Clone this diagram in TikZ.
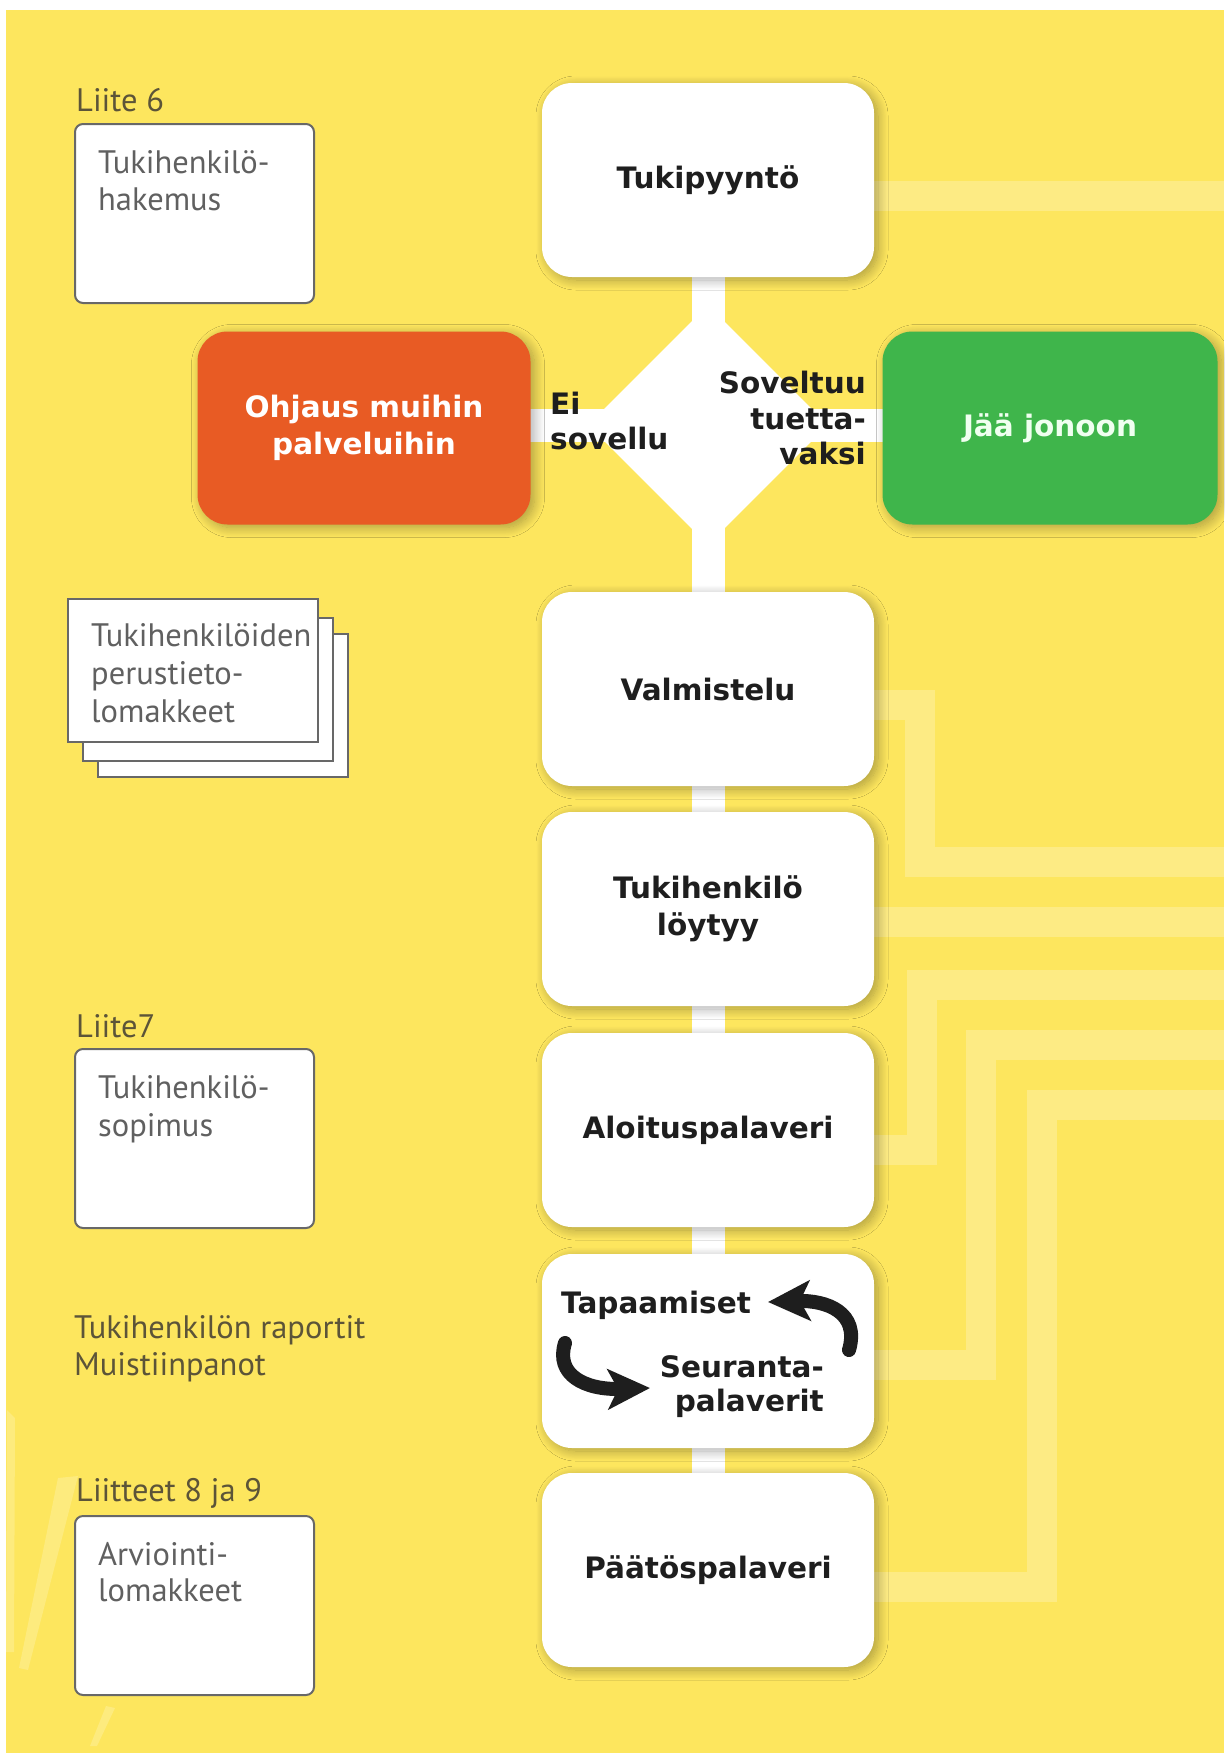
\documentclass[tikz,border=0pt]{standalone}
\usepackage{fontspec}
\setmainfont{Lato}
\newfontfamily\docfont{PT Sans}
\newfontfamily\boxfont{DejaVu Sans}
\usetikzlibrary{shapes.geometric,arrows.meta,shadows.blur}
\definecolor{bgyellow}{HTML}{FDE65E}
\definecolor{stripecol}{HTML}{FDEB84}
\definecolor{orangebox}{HTML}{E85B24}
\definecolor{greenbox}{HTML}{3FB54B}
\definecolor{doctext}{HTML}{606060}
\definecolor{labeltext}{HTML}{5C5438}
\definecolor{docline}{HTML}{686868}
\definecolor{boxtext}{HTML}{1E1E1E}
\pgfdeclarelayer{bglayer}
\pgfdeclarelayer{stemlayer}
\pgfsetlayers{bglayer,stemlayer,main}
\tikzset{
  boxshadow/.style={blur shadow={shadow xshift=4pt, shadow yshift=-3pt, shadow blur radius=10pt, shadow blur steps=14, shadow opacity=32}},
  flowbox/.style={rectangle, rounded corners=30pt, minimum width=332pt, minimum height=194pt,
    fill=white, inner sep=0pt, font=\boxfont\bfseries\fontsize{29.5}{37}\selectfont, text=boxtext, align=center, boxshadow},
  sidebox/.style={flowbox, text=white},
  decision/.style={diamond, fill=white, minimum width=240pt, minimum height=240pt, inner sep=0pt, aspect=1},
  stemline/.style={line width=33pt, white},
  stripe/.style={line width=30pt, stripecol, line join=miter},
  boldlabel/.style={font=\boxfont\bfseries\fontsize{29.5}{36}\selectfont, text=boxtext, inner sep=0pt},
  docbox/.style={draw=docline, line width=2pt, fill=white, rounded corners=8pt, inner sep=0pt,
    minimum width=239pt, minimum height=179pt},
  docsheet/.style={draw=docline, line width=2.2pt, fill=white, inner sep=0pt,
    minimum width=250pt, minimum height=143pt},
  doctxt/.style={font=\docfont\fontsize{32.5}{37}\selectfont, text=doctext, align=left, inner sep=0pt, anchor=base west},
  doclabel/.style={font=\docfont\fontsize{32.5}{37}\selectfont, text=labeltext, align=left, inner sep=0pt, anchor=base west},
  cyclearrow/.style={draw=boxtext, line width=14pt, line cap=round, -{Stealth[length=42pt,width=40pt,inset=10pt]}},
  swoosh/.style={fill=white, opacity=0.2},
}
\begin{document}
\begin{tikzpicture}[x=1pt,y=-1pt]
\useasboundingbox (0,0) rectangle (1224,1753);

% ---------- main flow ----------
\node[flowbox] (tuki) at (708,180) {Tukipyyntö};
\node[decision] (dec) at (708,425) {};
\node[sidebox, fill=orangebox, minimum width=333pt, minimum height=193pt] (ohj) at (364,428) {Ohjaus muihin\\palveluihin};
\node[sidebox, fill=greenbox, minimum width=335pt, minimum height=193pt, text=white!94!green] (jaa) at (1050,428) {Jää jonoon};
\node[flowbox] (valm) at (708,689) {Valmistelu};
\node[flowbox] (loyt) at (708,909) {Tukihenkilö\\löytyy};
\node[flowbox] (aloi) at (708,1130) {Aloituspalaveri};
\node[flowbox] (tapa) at (708,1351) {};
\node[flowbox] (paat) at (708,1570) {Päätöspalaveri};

% decision labels
\node[boldlabel, anchor=base west] (ei) at (550,414) {Ei};
\node[boldlabel, anchor=base west] (sov) at (550,449) {sovellu};
\node[boldlabel, anchor=base east] (sov1) at (866,393) {Soveltuu};
\node[boldlabel, anchor=base east] (sov2) at (866,429) {tuetta-};
\node[boldlabel, anchor=base east] (sov3) at (866,464) {vaksi};

% inside the meetings box
\node[boldlabel, anchor=base] (tapt) at (656,1313) {Tapaamiset};
\node[boldlabel, anchor=base east] (seur1) at (824,1377) {Seuranta-};
\node[boldlabel, anchor=base east] (seur2) at (824,1411) {palaverit};
\coordinate (a1s) at (849,1350);
\coordinate (a1e) at (768,1302);
\coordinate (a2s) at (565,1343);
\coordinate (a2e) at (650,1388);
\draw[cyclearrow] (a1s) .. controls (860,1312) and (826,1300) .. (a1e);
\draw[cyclearrow] (a2s) .. controls (555,1375) and (585,1390) .. (a2e);

% ---------- documents column ----------
\node[doclabel] (l6) at (76,111) {Liite 6};
\node[docbox, anchor=north west] (doc1) at (74,123) {};
\node[doctxt] (doc1t) at (98,210) {Tukihenkilö-\\hakemus};

\node[docsheet, anchor=north west] (sheet3) at (97,633) {};
\node[docsheet, anchor=north west] (sheet2) at (82,617) {};
\node[docsheet, anchor=north west] (sheet1) at (67,598) {};
\node[doctxt, font=\docfont\fontsize{32.5}{38}\selectfont] (sheett) at (91,722) {Tukihenkilöiden\\perustieto-\\lomakkeet};

\node[doclabel] (l7) at (76,1037) {Liite7};
\node[docbox, anchor=north west] (doc2) at (74,1048) {};
\node[doctxt, font=\docfont\fontsize{32.5}{38}\selectfont] (doc2t) at (98,1136) {Tukihenkilö-\\sopimus};

\node[doclabel] (rap) at (74,1375) {Tukihenkilön raportit\\Muistiinpanot};

\node[doclabel] (l89) at (76,1501) {Liitteet 8 ja 9};
\node[docbox, anchor=north west] (doc3) at (74,1515) {};
\node[doctxt, font=\docfont\fontsize{32.5}{36}\selectfont] (doc3t) at (98,1601) {Arviointi-\\lomakkeet};

% ---------- connectors (stems) ----------
\begin{pgfonlayer}{stemlayer}
  \draw[stemline] (tuki.center) -- (dec.center) -- (valm.center) -- (loyt.center)
        -- (aloi.center) -- (tapa.center) -- (paat.center);
  \draw[stemline] (ohj.center |- dec.center) -- (jaa.center |- dec.center);
\end{pgfonlayer}

% ---------- background ----------
\begin{pgfonlayer}{bglayer}
  \fill[white] (0,0) rectangle (1224,1753);
  \fill[bgyellow] (6,10) rectangle (1224,1753);
  \coordinate (r0) at (1224,196);
  \coordinate (c1) at (920,705);  \coordinate (r1) at (1224,862);
  \coordinate (r2) at (1224,922);
  \coordinate (c3) at (922,1150); \coordinate (r3) at (1224,985);
  \coordinate (c4) at (981,1365); \coordinate (r4) at (1224,1045);
  \coordinate (c5) at (1042,1587);\coordinate (r5) at (1224,1105);
  \draw[stripe] (tuki.east |- r0) -- (r0);
  \draw[stripe] (valm.east |- c1) -- (c1) |- (r1);
  \draw[stripe] (loyt.east |- r2) -- (r2);
  \draw[stripe] (aloi.east |- c3) -- (c3) |- (r3);
  \draw[stripe] (tapa.east |- c4) -- (c4) |- (r4);
  \draw[stripe] (paat.east |- c5) -- (c5) |- (r5);
  % faint brush strokes
  \fill[swoosh] (7,1410) -- (15,1418) -- (14,1652) -- (6,1652) -- cycle;
  \fill[swoosh] (58,1478) -- (78,1476) -- (28,1670) -- (19,1668) -- cycle;
  \fill[swoosh] (106,1706) -- (115,1708) -- (97,1746) -- (90,1746) -- cycle;
\end{pgfonlayer}
\end{tikzpicture}
\end{document}
